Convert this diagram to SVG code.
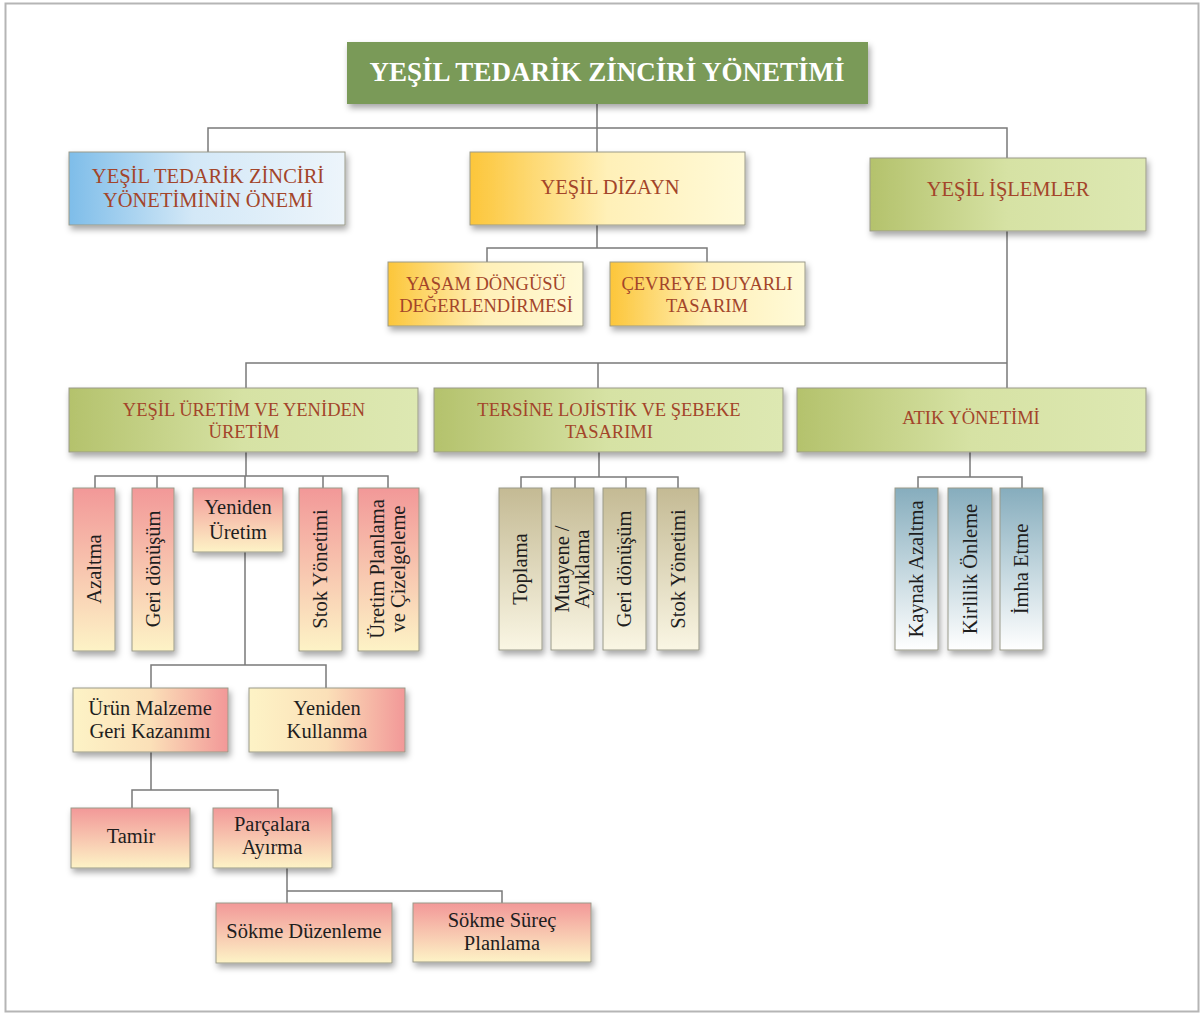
<svg xmlns="http://www.w3.org/2000/svg" width="1204" height="1015" viewBox="0 0 1204 1015">
<defs>
<linearGradient id="gBlue" x1="0" y1="0" x2="1" y2="0"><stop offset="0" stop-color="#7ebde9"/><stop offset="0.45" stop-color="#d3e8f7"/><stop offset="1" stop-color="#edf5fb"/></linearGradient>
<linearGradient id="gYel" x1="0" y1="0" x2="1" y2="0"><stop offset="0" stop-color="#fcc63a"/><stop offset="0.5" stop-color="#fff0b8"/><stop offset="1" stop-color="#fffad8"/></linearGradient>
<linearGradient id="gGrn" x1="0" y1="0" x2="1" y2="0"><stop offset="0" stop-color="#b4c26c"/><stop offset="0.5" stop-color="#d6e2a4"/><stop offset="1" stop-color="#dde8b2"/></linearGradient>
<linearGradient id="gPinkV" x1="0" y1="0" x2="0" y2="1"><stop offset="0" stop-color="#f29898"/><stop offset="1" stop-color="#fdf3c6"/></linearGradient>
<linearGradient id="gPinkH" x1="0" y1="0" x2="1" y2="0"><stop offset="0" stop-color="#fdf3c6"/><stop offset="0.5" stop-color="#fbe0b8"/><stop offset="1" stop-color="#f29898"/></linearGradient>
<linearGradient id="gTan" x1="0" y1="0" x2="0" y2="1"><stop offset="0" stop-color="#c4ba94"/><stop offset="1" stop-color="#faf6e4"/></linearGradient>
<linearGradient id="gSteel" x1="0" y1="0" x2="0" y2="1"><stop offset="0" stop-color="#86adbd"/><stop offset="1" stop-color="#ffffff"/></linearGradient>
<filter id="sh" x="-20%" y="-20%" width="150%" height="150%"><feDropShadow dx="2" dy="4" stdDeviation="3" flood-color="#000" flood-opacity="0.35"/></filter>
</defs>
<style>
.box{stroke:#9a9a8a;stroke-width:1;filter:url(#sh)}
.t{font-family:"Liberation Serif","Times New Roman",serif;text-anchor:middle}
.cap{font-size:20.5px;fill:#a3452a}
.cs{font-size:18.5px;fill:#a3452a}
.dk{font-size:20.5px;fill:#1e1e1e}
.vt{font-size:20.5px;fill:#1e1e1e}
.con{fill:none;stroke:#7a7a7a;stroke-width:1.5}
</style>
<rect x="0" y="0" width="1204" height="1015" fill="#ffffff"/>
<rect x="5.5" y="3.5" width="1193" height="1008" fill="none" stroke="#b5b5b5" stroke-width="2"/>

<g id="connectors" class="con">
<path d="M597 104V128M208 152V128H1007V158M597 128V152"/>
<path d="M597 225V248M487 262V248H707V262"/>
<path d="M1007 231V363M246 388V363H1007V388M598 363V388"/>
<path d="M246 452V476M95 488V476H388V488M157 476V488M323 476V488M245 476V488"/>
<path d="M245 552V665M151 688V665H326V688"/>
<path d="M151 752V790M132 808V790H278V808"/>
<path d="M287 868V891H502V903M287 891V903"/>
<path d="M599 452V477M521 488V477H678V488M575 477V488M626 477V488"/>
<path d="M970 452V477M918 488V477H1022V488"/>
</g>

<g id="n-title"><rect x="347" y="42" width="521" height="62" fill="#7a9a58" filter="url(#sh)"/><text class="t" x="607" y="81" font-size="27" font-weight="bold" fill="#ffffff">YEŞİL TEDARİK ZİNCİRİ YÖNETİMİ</text></g>

<g id="n-onem"><rect class="box" x="69" y="152" width="276" height="73" fill="url(#gBlue)"/><text class="t cap" x="208" y="183">YEŞİL TEDARİK ZİNCİRİ</text><text class="t cap" x="208" y="207">YÖNETİMİNİN ÖNEMİ</text></g>
<g id="n-dizayn"><rect class="box" x="470" y="152" width="275" height="73" fill="url(#gYel)"/><text class="t cap" x="610" y="194">YEŞİL DİZAYN</text></g>
<g id="n-islemler"><rect class="box" x="870" y="158" width="276" height="73" fill="url(#gGrn)"/><text class="t cap" x="1008" y="196">YEŞİL İŞLEMLER</text></g>

<g id="n-yasam"><rect class="box" x="388" y="262" width="195" height="64" fill="url(#gYel)"/><text class="t cs" x="486" y="290">YAŞAM DÖNGÜSÜ</text><text class="t cs" x="486" y="312">DEĞERLENDİRMESİ</text></g>
<g id="n-cevre"><rect class="box" x="610" y="262" width="195" height="64" fill="url(#gYel)"/><text class="t cs" x="707" y="290">ÇEVREYE DUYARLI</text><text class="t cs" x="707" y="312">TASARIM</text></g>

<g id="n-uretim"><rect class="box" x="69" y="388" width="349" height="64" fill="url(#gGrn)"/><text class="t cs" x="244" y="416">YEŞİL ÜRETİM VE YENİDEN</text><text class="t cs" x="244" y="438">ÜRETİM</text></g>
<g id="n-tersine"><rect class="box" x="434" y="388" width="349" height="64" fill="url(#gGrn)"/><text class="t cs" x="609" y="416">TERSİNE LOJİSTİK VE ŞEBEKE</text><text class="t cs" x="609" y="438">TASARIMI</text></g>
<g id="n-atik"><rect class="box" x="797" y="388" width="349" height="64" fill="url(#gGrn)"/><text class="t cs" x="971" y="424">ATIK YÖNETİMİ</text></g>

<g id="n-azaltma"><rect class="box" x="73" y="488" width="42" height="163" fill="url(#gPinkV)"/><text class="t vt" transform="translate(101 569) rotate(-90)">Azaltma</text></g>
<g id="n-geri1"><rect class="box" x="132" y="488" width="42" height="163" fill="url(#gPinkV)"/><text class="t vt" transform="translate(160 569) rotate(-90)">Geri dönüşüm</text></g>
<g id="n-yenuretim"><rect class="box" x="193" y="488" width="90" height="64" fill="url(#gPinkV)"/><text class="t dk" x="238" y="514">Yeniden</text><text class="t dk" x="238" y="539">Üretim</text></g>
<g id="n-stok1"><rect class="box" x="299" y="488" width="43" height="163" fill="url(#gPinkV)"/><text class="t vt" transform="translate(327 569) rotate(-90)">Stok Yönetimi</text></g>
<g id="n-planlama"><rect class="box" x="358" y="488" width="61" height="163" fill="url(#gPinkV)"/><text class="t vt" transform="translate(384 569) rotate(-90)">Üretim Planlama</text><text class="t vt" transform="translate(405 569) rotate(-90)">ve Çizelgeleme</text></g>

<g id="n-toplama"><rect class="box" x="499" y="488" width="43" height="162" fill="url(#gTan)"/><text class="t vt" transform="translate(527 569) rotate(-90)">Toplama</text></g>
<g id="n-muayene"><rect class="box" x="551" y="488" width="43" height="162" fill="url(#gTan)"/><text class="t vt" transform="translate(569 569) rotate(-90)">Muayene /</text><text class="t vt" transform="translate(589 569) rotate(-90)">Ayıklama</text></g>
<g id="n-geri2"><rect class="box" x="603" y="488" width="43" height="162" fill="url(#gTan)"/><text class="t vt" transform="translate(631 569) rotate(-90)">Geri dönüşüm</text></g>
<g id="n-stok2"><rect class="box" x="657" y="488" width="42" height="162" fill="url(#gTan)"/><text class="t vt" transform="translate(685 569) rotate(-90)">Stok Yönetimi</text></g>

<g id="n-kaynak"><rect class="box" x="895" y="488" width="43" height="162" fill="url(#gSteel)"/><text class="t vt" transform="translate(923 569) rotate(-90)">Kaynak Azaltma</text></g>
<g id="n-kirlilik"><rect class="box" x="948" y="488" width="44" height="162" fill="url(#gSteel)"/><text class="t vt" transform="translate(977 569) rotate(-90)">Kirlilik Önleme</text></g>
<g id="n-imha"><rect class="box" x="1000" y="488" width="43" height="162" fill="url(#gSteel)"/><text class="t vt" transform="translate(1028 569) rotate(-90)">İmha Etme</text></g>

<g id="n-urun"><rect class="box" x="73" y="688" width="155" height="64" fill="url(#gPinkH)"/><text class="t dk" x="150" y="715">Ürün Malzeme</text><text class="t dk" x="150" y="738">Geri Kazanımı</text></g>
<g id="n-yenkullanma"><rect class="box" x="249" y="688" width="156" height="64" fill="url(#gPinkH)"/><text class="t dk" x="327" y="715">Yeniden</text><text class="t dk" x="327" y="738">Kullanma</text></g>
<g id="n-tamir"><rect class="box" x="71" y="808" width="119" height="60" fill="url(#gPinkV)"/><text class="t dk" x="131" y="843">Tamir</text></g>
<g id="n-parcalara"><rect class="box" x="213" y="808" width="119" height="60" fill="url(#gPinkV)"/><text class="t dk" x="272" y="831">Parçalara</text><text class="t dk" x="272" y="854">Ayırma</text></g>
<g id="n-sokduz"><rect class="box" x="216" y="903" width="176" height="60" fill="url(#gPinkV)"/><text class="t dk" x="304" y="938">Sökme Düzenleme</text></g>
<g id="n-soksurec"><rect class="box" x="413" y="903" width="178" height="59" fill="url(#gPinkV)"/><text class="t dk" x="502" y="927">Sökme Süreç</text><text class="t dk" x="502" y="950">Planlama</text></g>
</svg>
